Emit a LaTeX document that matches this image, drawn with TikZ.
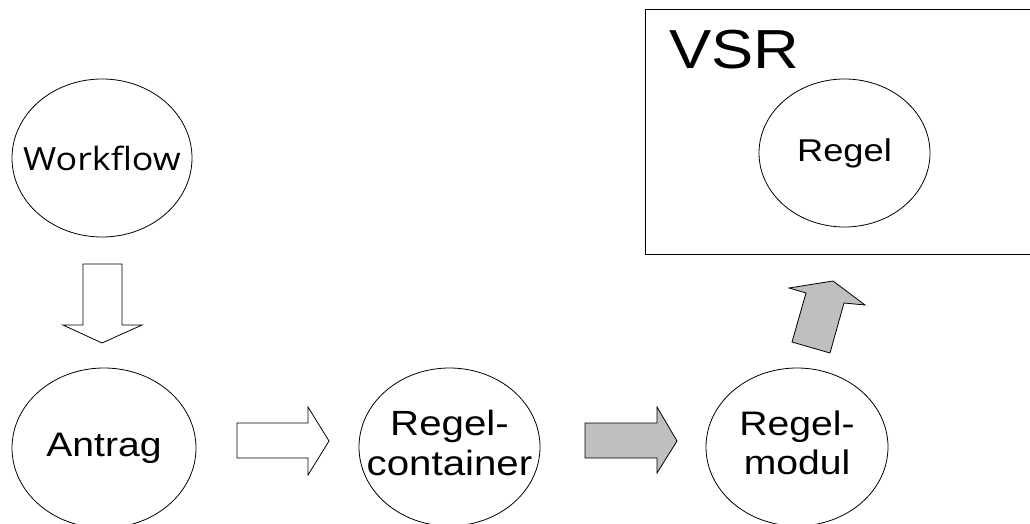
\documentclass[tikz,border=0pt]{standalone}
\usepackage{graphicx}
\usepackage{fontspec}
\setmainfont{Liberation Sans}
\newfontfamily\wffont{Open Sans}
\usetikzlibrary{shapes.geometric}
\newcommand{\xstr}[2][1.15]{\makebox[0pt]{\scalebox{#1}[1]{#2}}}
\begin{document}
\begin{tikzpicture}[x=1pt,y=-1pt,
  oval/.style={ellipse,draw=black,line width=0.8pt,inner sep=0pt,align=center},
  hollowarrow/.style={draw=black,line width=0.8pt,fill=white,line join=miter},
  grayarrow/.style={draw=black,line width=0.8pt,fill=black!25,line join=miter}]
\clip (0,0) rectangle (1030,524);
\fill[white] (0,0) rectangle (1030,524);
% VSR box
\draw[line width=0.8pt] (645,9) rectangle (1045,254);
\node[anchor=base west,inner sep=0pt,font=\fontsize{55}{55}\selectfont] (vsr) at (669,69) {\scalebox{1.15}[1]{VSR}};
% ellipses
\node[oval,minimum width=180pt,minimum height=158pt,font=\wffont\fontsize{32}{38}\selectfont] (wf) at (102,158) {\xstr[1.12]{Workflow}};
\node[oval,minimum width=184pt,minimum height=160pt,font=\fontsize{34}{40}\selectfont] (antrag) at (104,448) {\xstr{Antrag}};
\node[oval,minimum width=181pt,minimum height=158pt,font=\fontsize{35}{40}\selectfont] (rc) at (449.5,447) {\xstr{\begin{tabular}{@{}c@{}}Regel-\\container\end{tabular}}};
\node[oval,minimum width=182pt,minimum height=158pt,font=\fontsize{34}{39}\selectfont] (rm) at (797,447) {\xstr{\begin{tabular}{@{}c@{}}Regel-\\modul\end{tabular}}};
\node[oval,minimum width=171pt,minimum height=148pt,font=\fontsize{31.5}{36}\selectfont] (regel) at (844.5,153) {\xstr{Regel}};
% block arrows
\draw[hollowarrow] (83,264) -- (122,264) -- (122,325) -- (142,325) -- (102,343) -- (63,325) -- (83,325) -- cycle;
\draw[hollowarrow] (237,423) -- (308,423) -- (308,407) -- (329,441) -- (308,475) -- (308,458) -- (237,458) -- cycle;
\draw[grayarrow] (585,423) -- (657,423) -- (657,407) -- (677,441) -- (657,473) -- (657,458) -- (585,458) -- cycle;
\draw[grayarrow] (792,342) -- (806,293) -- (789,288) -- (833,281) -- (865,305) -- (844,303) -- (830,353) -- cycle;
\end{tikzpicture}
\end{document}
